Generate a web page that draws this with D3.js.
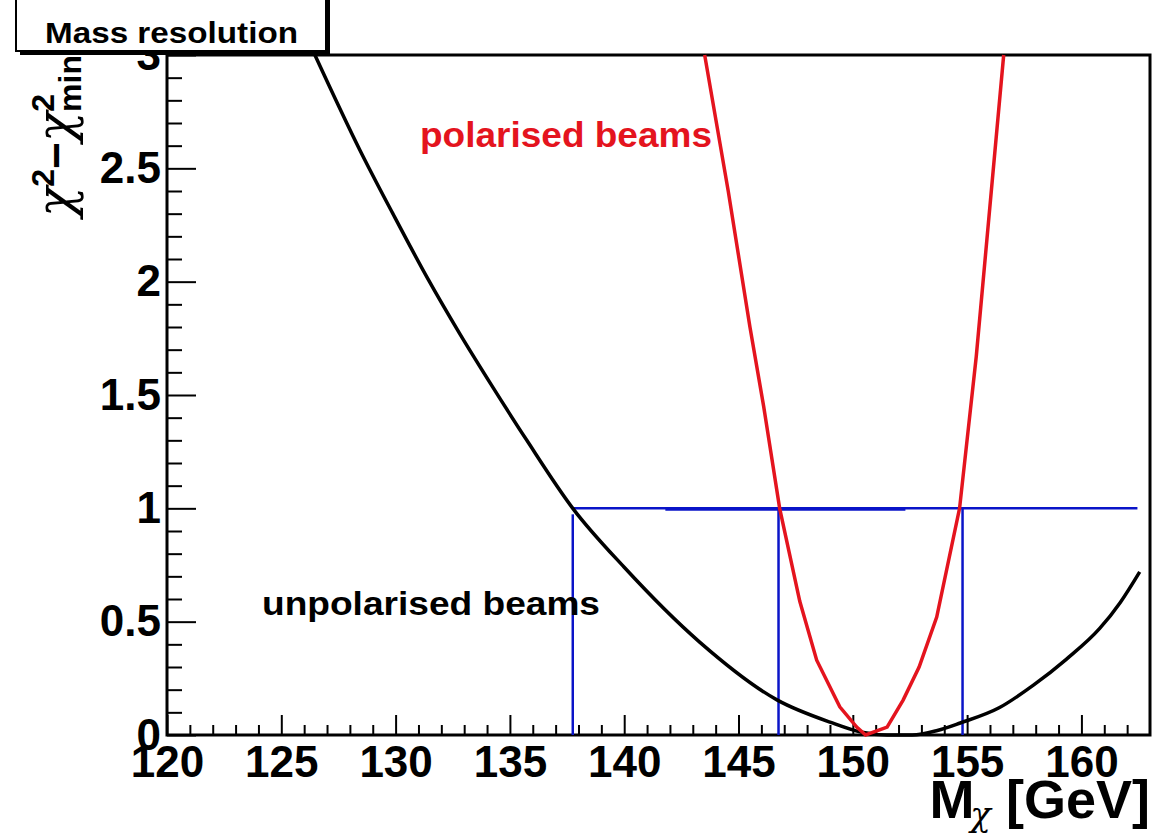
<!DOCTYPE html>
<html>
<head>
<meta charset="utf-8">
<script src="https://cdn.jsdelivr.net/npm/d3@7"></script>
<style>
  body { margin: 0; background: #fff; }
  text { font-family: "Liberation Sans", Arial, sans-serif; font-weight: bold; }
  .greek { font-family: "DejaVu Serif", serif; font-style: italic; font-weight: normal; }
</style>
</head>
<body>
<div id="chart"></div>
<script>
// chi2 - chi2_min scans versus the neutralino mass
const unpolarised = [
  [126.47, 3.0], [128.44, 2.58], [129.88, 2.30], [131.37, 2.02], [132.81, 1.77],
  [134.25, 1.535], [135.74, 1.30], [137.75, 1.0], [140.0, 0.74], [143.3, 0.41],
  [146.7, 0.154], [149.0, 0.057], [150.4, 0.012], [151.5, 0.0], [152.6, 0.0],
  [153.7, 0.02], [154.7, 0.053], [156.4, 0.12], [157.9, 0.22], [159.35, 0.335],
  [160.8, 0.47], [161.7, 0.585], [162.55, 0.72]
]

const polarised = [
  [143.52, 3.0], [144.55, 2.4], [145.5, 1.8], [146.1, 1.45], [146.8, 1.0],
  [147.68, 0.59], [148.42, 0.33], [149.43, 0.124], [150.17, 0.035], [150.56, 0.0],
  [151.5, 0.035], [152.2, 0.154], [152.9, 0.3], [153.67, 0.52], [154.67, 1.0],
  [155.4, 1.67], [156.6, 3.0]
]

// blue construction lines at delta chi2 = 1
const cutLevel = 1.0
const cutRange = [137.75, 162.45]
const cutOverlap = [141.8, 152.3]
const cutMasses = [137.75, 146.75, 154.8]

const xMajor = [120, 125, 130, 135, 140, 145, 150, 155, 160]
const yMajor = [0, 0.5, 1, 1.5, 2, 2.5, 3]
const xDomain = [120, 163]
const yDomain = [0, 3]

let svg = d3.select("#chart")
            .append('svg')
            .attr('width', 1164)
            .attr('height', 838)

let x = d3.scaleLinear().domain(xDomain).range([167, 1150])
let y = d3.scaleLinear().domain(yDomain).range([735, 55])

// frame background
svg.append('rect')
   .attr('x', x(xDomain[0])).attr('y', y(yDomain[1]))
   .attr('width', x(xDomain[1]) - x(xDomain[0]))
   .attr('height', y(yDomain[0]) - y(yDomain[1]))
   .attr('fill', 'white')

// x axis: major and minor ticks pointing inward
let xMinor = d3.range(121, 163, 1).filter(function(v) { return v % 5 !== 0 })
let xAxisG = svg.append('g').attr('transform', "translate(0," + y(0) + ")")
xAxisG.call(d3.axisBottom(x).tickValues(xMajor).tickSize(-20).tickPadding(11)
              .tickFormat(d3.format('d')))
xAxisG.append('g').call(d3.axisBottom(x).tickValues(xMinor).tickSize(-10).tickFormat(''))
xAxisG.selectAll('.domain').remove()
xAxisG.selectAll('line').attr('stroke', 'black').attr('stroke-width', 2)
xAxisG.selectAll('text').style('font-size', '44px').attr('fill', 'black')

// y axis
let yMinor = d3.range(1, 30).map(function(i) { return i / 10 }).filter(function(v, i) { return (i + 1) % 5 !== 0 })
let yAxisG = svg.append('g').attr('transform', "translate(" + x(120) + ",0)")
yAxisG.call(d3.axisLeft(y).tickValues(yMajor).tickSize(-29).tickPadding(6)
              .tickFormat(d3.format('')))
yAxisG.append('g').call(d3.axisLeft(y).tickValues(yMinor).tickSize(-15).tickFormat(''))
yAxisG.selectAll('.domain').remove()
yAxisG.selectAll('line').attr('stroke', 'black').attr('stroke-width', 2)
yAxisG.selectAll('text').style('font-size', '44px').attr('fill', 'black')

// frame edges over the ticks
svg.append('path')
   .attr('d', d3.line()([[x(120), y(3)], [x(120), y(0)], [x(163), y(0)], [x(163), y(3)], [x(120), y(3)]]))
   .attr('fill', 'none').attr('stroke', 'black').attr('stroke-width', 3)

let line = d3.line()
             .x(function(d) { return x(d[0]) })
             .y(function(d) { return y(d[1]) })

// blue lines
svg.append('line')
   .attr('x1', x(cutRange[0])).attr('x2', x(cutRange[1]))
   .attr('y1', y(cutLevel)).attr('y2', y(cutLevel))
   .attr('stroke', '#0a14c8').attr('stroke-width', 2.5)
svg.append('line')
   .attr('x1', x(cutOverlap[0])).attr('x2', x(cutOverlap[1]))
   .attr('y1', y(cutLevel) + 0.8).attr('y2', y(cutLevel) + 0.8)
   .attr('stroke', '#0a14c8').attr('stroke-width', 3)
svg.selectAll('.cut')
   .data(cutMasses)
   .enter()
   .append('line')
   .attr('class', 'cut')
   .attr('x1', function(d) { return x(d) }).attr('x2', function(d) { return x(d) })
   .attr('y1', function(d, i) { return i === 0 ? y(cutLevel) + 6 : y(cutLevel) })
   .attr('y2', y(0))
   .attr('stroke', '#0a14c8').attr('stroke-width', 2.5)

svg.append('path')
   .datum(unpolarised)
   .attr('d', line.curve(d3.curveMonotoneX))
   .attr('fill', 'none').attr('stroke', 'black').attr('stroke-width', 3.5)

svg.append('path')
   .datum(polarised)
   .attr('d', line.curve(d3.curveLinear))
   .attr('fill', 'none').attr('stroke', '#e4141e').attr('stroke-width', 3.5)

// curve labels
svg.append('text')
   .attr('x', 420).attr('y', 147)
   .attr('textLength', 292).attr('lengthAdjust', 'spacingAndGlyphs')
   .style('font-size', '35px').attr('fill', '#e4141e')
   .text("polarised beams")
svg.append('text')
   .attr('x', 262).attr('y', 615)
   .attr('textLength', 338).attr('lengthAdjust', 'spacingAndGlyphs')
   .style('font-size', '33px').attr('fill', 'black')
   .text("unpolarised beams")

// axis titles
let yTitle = svg.append('text')
   .attr('transform', "translate(72,55) rotate(-90)")
   .attr('text-anchor', 'end')
   .style('font-size', '46px').attr('fill', 'black')
yTitle.append('tspan').attr('class', 'greek').style('font-size', '50px').text("χ")
yTitle.append('tspan').attr('dy', -18).style('font-size', '32px').text("2")
yTitle.append('tspan').attr('dy', 18).text("−")
yTitle.append('tspan').attr('class', 'greek').style('font-size', '50px').text("χ")
yTitle.append('tspan').attr('dy', -18).style('font-size', '32px').text("2")
yTitle.append('tspan').attr('dx', -18).attr('dy', 27).style('font-size', '32px').text("min")

let xTitle = svg.append('text')
   .attr('x', 1150).attr('y', 818)
   .attr('text-anchor', 'end')
   .style('font-size', '54px').attr('fill', 'black')
xTitle.append('tspan').text("M")
xTitle.append('tspan').attr('class', 'greek').attr('dx', -4).attr('dy', 8).style('font-size', '34px').text("χ")
xTitle.append('tspan').attr('dy', -8).text(" [GeV]")

// title box with shadow
svg.append('rect').attr('x', 20).attr('y', -4).attr('width', 310).attr('height', 59).attr('fill', 'black')
svg.append('rect')
   .attr('x', 16).attr('y', -8).attr('width', 310).attr('height', 59)
   .attr('fill', 'white').attr('stroke', 'black').attr('stroke-width', 2)
svg.append('text')
   .attr('x', 45).attr('y', 43)
   .attr('textLength', 253).attr('lengthAdjust', 'spacingAndGlyphs')
   .style('font-size', '30px').attr('fill', 'black')
   .text("Mass resolution")
</script>
</body>
</html>
